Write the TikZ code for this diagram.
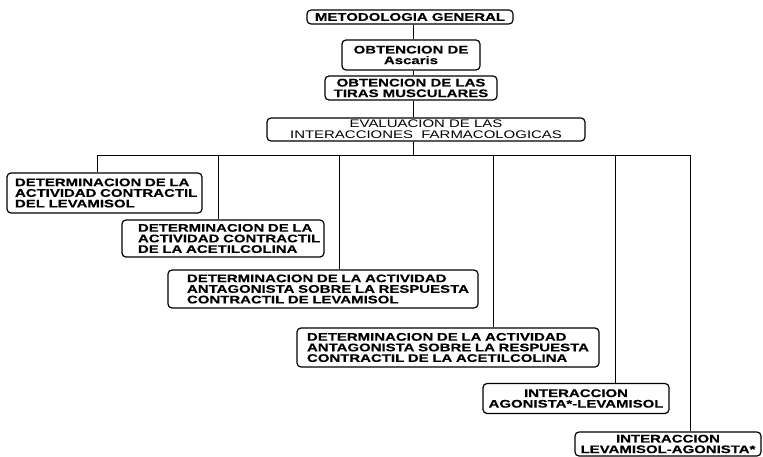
\documentclass[tikz,border=0pt]{standalone}
\usepackage{fontspec}
\newfontfamily\dfont{Liberation Sans}[FakeStretch=1.36, BoldFeatures={FakeBold=0.3}]
\newcommand\bxl[1]{\mbox{#1}}
\begin{document}
\begin{tikzpicture}[x=1pt,y=-1pt,
  boxbase/.style={draw=black, line width=1.2pt, rounded corners=4pt, inner ysep=0pt,
    font=\dfont\bfseries\fontsize{11}{10.6}\selectfont},
  cbox/.style={boxbase, align=center, inner xsep=0pt},
  lbox/.style n args={3}{boxbase, align=left, inner xsep=#1pt, text width=#2pt-2*#1pt, minimum height=#3pt},
  link/.style={draw=black, line width=0.9pt}]
\useasboundingbox (0,0) rectangle (763,457);
\fill[white] (0,0) rectangle (763,457);
% top chain
\node[cbox, minimum width=206pt, minimum height=14pt] (meto) at (410,17) {METODOLOGIA GENERAL};
\node[cbox, minimum width=138pt, minimum height=30pt] (asc) at (411,55) {OBTENCION DE\\Ascaris};
\node[cbox, minimum width=172pt, minimum height=24pt] (tiras) at (411,88) {OBTENCION DE LAS\\TIRAS MUSCULARES};
\node[cbox, minimum width=318pt, minimum height=23pt, font=\dfont\mdseries\fontsize{11}{10.6}\selectfont] (eval) at (426,129.5) {EVALUACION DE LAS\\INTERACCIONES\ \ FARMACOLOGICAS};
% lower boxes
\node[lbox={8}{195}{40}] (d1) at (104.5,193) {\bxl{DETERMINACION DE LA}\\\bxl{ACTIVIDAD CONTRACTIL}\\\bxl{DEL LEVAMISOL}};
\node[lbox={16}{202}{37}] (d2) at (223,238.5) {\bxl{DETERMINACION DE LA}\\\bxl{ACTIVIDAD CONTRACTIL}\\\bxl{DE LA ACETILCOLINA}};
\node[lbox={19}{310}{38}] (d3) at (323,289) {\bxl{DETERMINACION DE LA ACTIVIDAD}\\\bxl{ANTAGONISTA SOBRE LA RESPUESTA}\\\bxl{CONTRACTIL DE LEVAMISOL}};
\node[lbox={10}{302}{39}] (d4) at (448,347.5) {\bxl{DETERMINACION DE LA ACTIVIDAD}\\\bxl{ANTAGONISTA SOBRE LA RESPUESTA}\\\bxl{CONTRACTIL DE LA ACETILCOLINA}};
\node[cbox, minimum width=186pt, minimum height=30pt] (d5) at (576,398.5) {INTERACCION\\AGONISTA*-LEVAMISOL};
\node[cbox, minimum width=186pt, minimum height=24pt] (d6) at (668,444) {INTERACCION\\LEVAMISOL-AGONISTA*};
% connectors
\coordinate (spine) at (413,0);
\coordinate (busc) at (413,155);
\coordinate (b1) at (97,155);
\coordinate (b2) at (218,155);
\coordinate (b3) at (339,155);
\coordinate (b4) at (493,155);
\coordinate (b5) at (615,155);
\coordinate (b6) at (690,155);
\draw[link] (spine |- meto.south) -- (spine |- asc.north);
\draw[link] (spine |- asc.south) -- (spine |- tiras.north);
\draw[link] (spine |- tiras.south) -- (spine |- eval.north);
\draw[link] (spine |- eval.south) -- (busc);
\draw[link] (b1) -- (b6);
\draw[link] (b1) -- (b1 |- d1.north);
\draw[link] (b2) -- (b2 |- d2.north);
\draw[link] (b3) -- (b3 |- d3.north);
\draw[link] (b4) -- (b4 |- d4.north);
\draw[link] (b5) -- (b5 |- d5.north);
\draw[link] (b6) -- (b6 |- d6.north);
\end{tikzpicture}
\end{document}
